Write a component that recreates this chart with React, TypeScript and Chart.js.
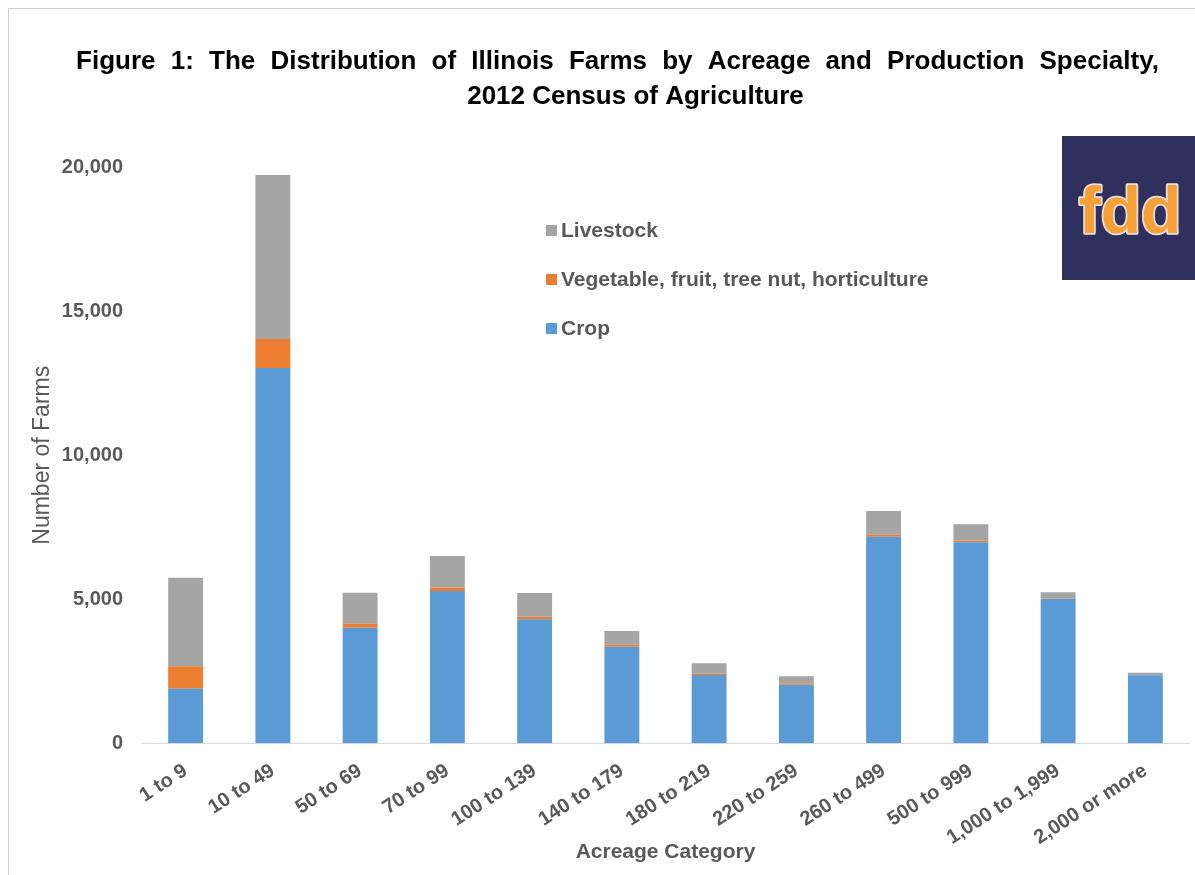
import React, { useEffect, useRef } from "react";
import { Chart, registerables } from "chart.js";

Chart.register(...registerables);

const categories = [
  "1 to 9",
  "10 to 49",
  "50 to 69",
  "70 to 99",
  "100 to 139",
  "140 to 179",
  "180 to 219",
  "220 to 259",
  "260 to 499",
  "500 to 999",
  "1,000 to 1,999",
  "2,000 or more",
];

const crop = [1884, 13029, 4003, 5286, 4298, 3348, 2363, 2027, 7170, 6974, 5004, 2351];
const vegetable = [785, 1007, 143, 110, 92, 69, 47, 47, 70, 57, 10, 5];
const livestock = [3072, 5702, 1074, 1106, 823, 475, 359, 243, 823, 568, 222, 88];

const seriesLabels = ["Crop", "Vegetable, fruit, tree nut, horticulture", "Livestock"];
const seriesColors = ["#5b9bd5", "#ed7d31", "#a5a5a5"];

const titleLines = [
  "Figure 1: The Distribution of Illinois Farms by Acreage and Production Specialty,",
  "2012 Census of Agriculture",
];
const yTitle = "Number of Farms";
const xTitle = "Acreage Category";
const logoText = "fdd";

const FONT = "'Liberation Sans', Arial, Helvetica, sans-serif";
const TEXT_GRAY = "#595959";

const titlePlugin = {
  id: "customTitle",
  afterDraw(chart: any) {
    const ctx = chart.ctx;
    ctx.save();
    ctx.font = `bold 26px ${FONT}`;
    ctx.fillStyle = "#000000";
    ctx.textAlign = "center";
    ctx.textBaseline = "middle";
    (ctx as any).wordSpacing = "8px";
    ctx.fillText(titleLines[0], 608.5, 53);
    (ctx as any).wordSpacing = "0px";
    ctx.fillText(titleLines[1], 626.5, 88);
    ctx.restore();
  },
};

const legendPlugin = {
  id: "customLegend",
  afterDraw(chart: any) {
    const ctx = chart.ctx;
    const order = [2, 1, 0];
    const x = 537;
    const startY = 221.5;
    const gap = 49;
    ctx.save();
    ctx.font = `bold 21px ${FONT}`;
    ctx.textBaseline = "middle";
    ctx.textAlign = "left";
    order.forEach((di, i) => {
      const ds = chart.data.datasets[di];
      const cy = startY + i * gap;
      ctx.fillStyle = ds.backgroundColor;
      ctx.fillRect(x, cy - 5.5, 11, 11);
      ctx.fillStyle = TEXT_GRAY;
      ctx.fillText(ds.label, x + 15, cy + 1);
    });
    ctx.restore();
  },
};

const logoPlugin = {
  id: "logo",
  afterDraw(chart: any) {
    const ctx = chart.ctx;
    ctx.save();
    ctx.fillStyle = "#30305e";
    ctx.fillRect(1053, 127, 140, 144);
    ctx.font = `bold 66px ${FONT}`;
    ctx.textAlign = "center";
    ctx.textBaseline = "alphabetic";
    ctx.lineJoin = "round";
    ctx.lineWidth = 3.5;
    ctx.strokeStyle = "#e8e0d8";
    ctx.strokeText(logoText, 1121, 224);
    ctx.fillStyle = "#f7a037";
    ctx.fillText(logoText, 1121, 224);
    ctx.restore();
  },
};

export default function App() {
  const canvasRef = useRef<HTMLCanvasElement | null>(null);

  useEffect(() => {
    if (!canvasRef.current) return;
    const chart = new Chart(canvasRef.current, {
      type: "bar",
      data: {
        labels: categories,
        datasets: [
          { label: seriesLabels[0], data: crop, backgroundColor: seriesColors[0] },
          { label: seriesLabels[1], data: vegetable, backgroundColor: seriesColors[1] },
          { label: seriesLabels[2], data: livestock, backgroundColor: seriesColors[2] },
        ].map((d) => ({ ...d, barPercentage: 0.4, categoryPercentage: 1.0, borderWidth: 0 })),
      },
      options: {
        responsive: false,
        animation: false,
        layout: { padding: { left: 0, right: 6, top: 158.5, bottom: 0 } },
        plugins: {
          legend: { display: false },
          tooltip: { enabled: false },
          title: { display: false },
        },
        scales: {
          x: {
            stacked: true,
            grid: { display: false, drawTicks: false },
            border: { display: true, color: "#d9d9d9", width: 1 },
            ticks: {
              color: TEXT_GRAY,
              font: { family: FONT, size: 20, weight: "bold" },
              minRotation: 33,
              maxRotation: 33,
              autoSkip: false,
              padding: 16,
            },
            title: {
              display: true,
              text: xTitle,
              color: TEXT_GRAY,
              font: { family: FONT, size: 21, weight: "bold" },
              padding: { top: 0, bottom: 10 },
            },
            afterFit(scale: any) {
              scale.height = 132;
            },
          },
          y: {
            stacked: true,
            min: 0,
            max: 20000,
            grid: { display: false, drawTicks: false },
            border: { display: false },
            ticks: {
              stepSize: 5000,
              color: TEXT_GRAY,
              font: { family: FONT, size: 20, weight: "bold" },
              padding: 19,
              callback: (v: any) => Number(v).toLocaleString("en-US"),
            },
            title: {
              display: true,
              text: yTitle,
              color: TEXT_GRAY,
              font: { family: FONT, size: 23, weight: "normal" },
              padding: { top: 20, bottom: 0 },
            },
            afterFit(scale: any) {
              scale.width = 133;
            },
          },
        },
      },
      plugins: [titlePlugin, legendPlugin, logoPlugin],
    });
    return () => chart.destroy();
  }, []);

  return (
    <div
      style={{
        position: "absolute",
        left: 8,
        top: 8,
        width: 1186,
        height: 866,
        borderLeft: "1px solid #d0d0d0",
        borderTop: "1px solid #d0d0d0",
        background: "#ffffff",
        overflow: "hidden",
      }}
    >
      <canvas ref={canvasRef} width={1186} height={866} style={{ display: "block" }} />
    </div>
  );
}
